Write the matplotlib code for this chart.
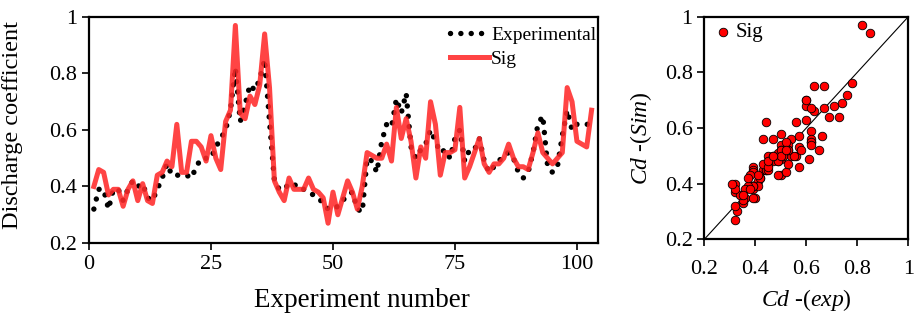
import matplotlib
matplotlib.use("Agg")
import matplotlib.pyplot as plt
import numpy as np

plt.rcParams['font.family'] = ['Liberation Serif', 'DejaVu Serif']
plt.rcParams['mathtext.fontset'] = 'custom'
plt.rcParams['mathtext.rm'] = 'Liberation Serif'
plt.rcParams['mathtext.it'] = 'Liberation Serif:italic'

# experiment numbers 1..103
exp_no = list(range(1, 104))

experimental = [0.32, 0.39, 0.39, 0.32, 0.39, 0.39, 0.35, 0.39, 0.42, 0.40,
                0.41, 0.36, 0.35, 0.39, 0.43, 0.48, 0.44, 0.44, 0.44, 0.44,
                0.43, 0.47, 0.50, 0.50, 0.50, 0.54, 0.57, 0.60, 0.67, 0.82,
                0.63, 0.69, 0.76, 0.74, 0.78, 0.85, 0.63, 0.42, 0.39, 0.39,
                0.41, 0.41, 0.39, 0.39, 0.38, 0.37, 0.36, 0.34, 0.32, 0.32,
                0.33, 0.35, 0.37, 0.38, 0.32, 0.31, 0.50, 0.49, 0.45, 0.56,
                0.62, 0.61, 0.71, 0.66, 0.73, 0.54, 0.50, 0.53, 0.55, 0.60,
                0.56, 0.52, 0.53, 0.50, 0.57, 0.60, 0.49, 0.53, 0.53, 0.57,
                0.49, 0.45, 0.47, 0.49, 0.51, 0.52, 0.50, 0.45, 0.43, 0.45,
                0.52, 0.62, 0.65, 0.47, 0.45, 0.47, 0.58, 0.67, 0.60, 0.62,
                0.62, 0.62, 0.62]

sig = [0.40, 0.46, 0.45, 0.37, 0.39, 0.39, 0.33, 0.39, 0.42, 0.35,
       0.41, 0.35, 0.34, 0.44, 0.45, 0.49, 0.47, 0.62, 0.45, 0.45,
       0.56, 0.56, 0.54, 0.49, 0.58, 0.50, 0.46, 0.63, 0.67, 0.97,
       0.66, 0.64, 0.72, 0.69, 0.76, 0.94, 0.75, 0.42, 0.38, 0.35,
       0.43, 0.39, 0.39, 0.39, 0.43, 0.39, 0.38, 0.36, 0.27, 0.38,
       0.30, 0.36, 0.42, 0.38, 0.32, 0.40, 0.52, 0.51, 0.50, 0.50,
       0.55, 0.49, 0.68, 0.57, 0.64, 0.56, 0.43, 0.54, 0.50, 0.70,
       0.62, 0.44, 0.52, 0.52, 0.53, 0.68, 0.43, 0.47, 0.52, 0.57,
       0.48, 0.45, 0.48, 0.48, 0.50, 0.55, 0.50, 0.47, 0.47, 0.46,
       0.52, 0.59, 0.52, 0.50, 0.48, 0.50, 0.52, 0.75, 0.70, 0.56,
       0.55, 0.54, 0.67]

x_ticks = [0, 25, 50, 75, 100]
y_ticks = [0.2, 0.4, 0.6, 0.8, 1.0]
y_labels = ['0.2', '0.4', '0.6', '0.8', '1']

fig = plt.figure(figsize=(9.22, 3.2), dpi=100)

# ---- left: series ----
ax = fig.add_axes([0.0965, 0.2406, 0.552, 0.7064])
ax.plot(exp_no, experimental, color='black', lw=3.9, linestyle=(0, (0.01, 1.9)),
        dash_capstyle='round', label='Experimental')
ax.plot(exp_no, sig, color='#ff2a2a', lw=3.6, alpha=0.88, label='Sig')
ax.set_xlim(0, 104.3)
ax.set_ylim(0.2, 1.0)
ax.set_xticks(x_ticks)
ax.set_yticks(y_ticks)
ax.set_yticklabels(y_labels)
ax.tick_params(direction='out', length=5, width=1.2, labelsize=16)
ax.set_xlabel('Experiment number', fontsize=19.5)
ax.set_ylabel('Discharge coefficient', fontsize=17.5)
ax.xaxis.set_label_coords(0.536, -0.2)
ax.yaxis.set_label_coords(-0.13, 0.52)
for s in ax.spines.values():
    s.set_linewidth(1.6)
ax.legend(loc='upper right', bbox_to_anchor=(1.016, 1.0), frameon=False,
          fontsize=14, handlelength=2.0, handletextpad=0.1, borderaxespad=0.1,
          labelspacing=0.3)

# ---- right: scatter ----
ax2 = fig.add_axes([0.7639, 0.2522, 0.2213, 0.6958])
ax2.plot([0.2, 1.0], [0.2, 1.0], color='black', lw=0.8)
ax2.scatter(experimental, sig, s=38, facecolor='#ff0000', edgecolor='black',
            linewidth=0.6, zorder=3, label='Sig')
ax2.set_xlim(0.2, 1.0)
ax2.set_ylim(0.2, 1.0)
ax2.set_xticks(y_ticks)
ax2.set_xticklabels(y_labels)
ax2.set_yticks(y_ticks)
ax2.set_yticklabels(y_labels)
ax2.tick_params(direction='out', length=5, width=1.2, labelsize=16)
ax2.tick_params(axis='x', pad=10)
ax2.set_xlabel(r'$Cd$ -($exp$)', fontsize=17, labelpad=6)
ax2.set_ylabel(r'$Cd$ -($Sim$)', fontsize=17, labelpad=8)
ax2.yaxis.set_label_coords(-0.245, 0.455)
for s in ax2.spines.values():
    s.set_linewidth(1.6)
ax2.legend(loc='upper left', bbox_to_anchor=(-0.01, 1.02), frameon=False,
           fontsize=15, handletextpad=0.1, borderaxespad=0.1, handlelength=1.0)

fig.savefig('out.png', dpi=100)
